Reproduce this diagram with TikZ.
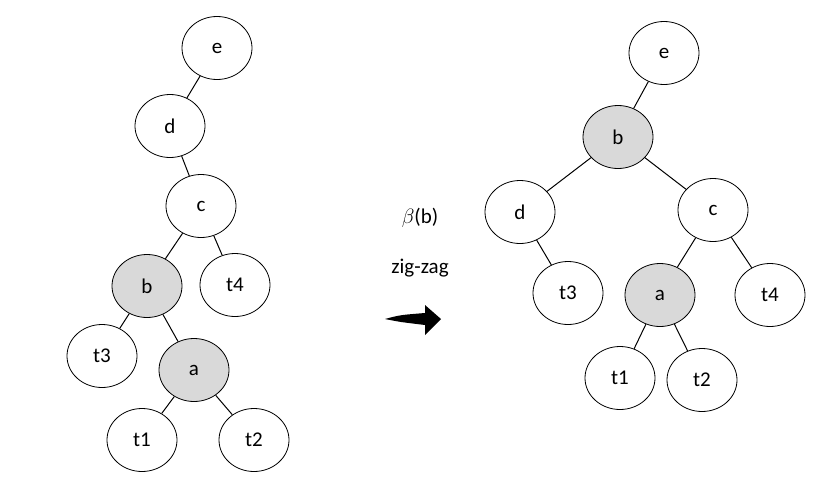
\documentclass[tikz,border=0pt]{standalone}
\usepackage{fontspec}
\setmainfont{Carlito}
\usetikzlibrary{shapes.geometric}
\begin{document}
\begin{tikzpicture}[x=1pt,y=-1pt,
  nd/.style={draw,ellipse,minimum width=70pt,minimum height=63pt,inner sep=0pt,font=\fontsize{21}{24}\selectfont,line width=0.8pt},
  gr/.style={nd,fill=gray!30},
  ed/.style={line width=1pt}]
\useasboundingbox (0,0) rectangle (831,485);
\node[nd] (e) at (217,48) {e};
\node[nd] (d) at (170,126) {d};
\node[nd] (c) at (201,206) {c};
\node[gr] (b) at (147,286) {b};
\node[nd] (t4) at (235,285) {t4};
\node[nd] (t3) at (102,356) {t3};
\node[gr] (a) at (194,370) {a};
\node[nd] (t1) at (142,440) {t1};
\node[nd] (t2) at (254,440) {t2};
\draw[ed] (e)--(d); \draw[ed] (d)--(c); \draw[ed] (c)--(b); \draw[ed] (c)--(t4);
\draw[ed] (b)--(t3); \draw[ed] (b)--(a); \draw[ed] (a)--(t1); \draw[ed] (a)--(t2);
\node[nd] (e2) at (664,53) {e};
\node[gr] (b2) at (618,137) {b};
\node[nd] (d2) at (520,212) {d};
\node[nd] (c2) at (713,210) {c};
\node[nd] (t32) at (568,293) {t3};
\node[gr] (a2) at (660,295) {a};
\node[nd] (t42) at (770,295) {t4};
\node[nd] (t12) at (620,378) {t1};
\node[nd] (t22) at (702,380) {t2};
\draw[ed] (e2)--(b2); \draw[ed] (b2)--(d2); \draw[ed] (b2)--(c2); \draw[ed] (d2)--(t32);
\draw[ed] (c2)--(a2); \draw[ed] (c2)--(t42); \draw[ed] (a2)--(t12); \draw[ed] (a2)--(t22);
\node[font=\fontsize{21}{24}\selectfont] (lb) at (420,218) {$\beta$(b)};
\node[font=\fontsize{21}{24}\selectfont] (lz) at (420,268) {zig-zag};
\fill (385,319) .. controls (400,315) .. (425,313) -- (425,305) -- (441,319) -- (425,335) -- (425,325) .. controls (400,322) .. (385,319) -- cycle;
\end{tikzpicture}
\end{document}
